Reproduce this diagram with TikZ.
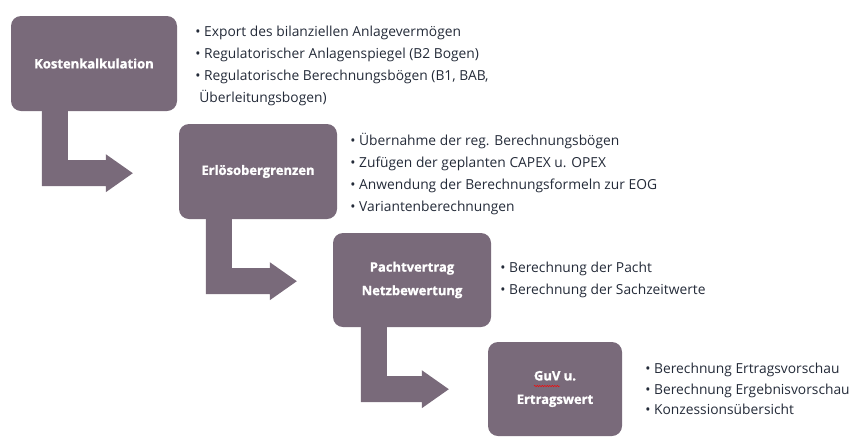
\documentclass[tikz,border=0pt]{standalone}
\usepackage{fontspec}
\setmainfont{Open Sans}
\newfontfamily\titlefont[BoldFeatures={FakeBold=1.2}]{Open Sans}
\usetikzlibrary{positioning,calc,decorations.pathmorphing}
\definecolor{boxcol}{RGB}{121,106,122}
\definecolor{txtcol}{RGB}{35,42,56}
\newcommand{\bentarrow}[4]{%
	\coordinate (a0) at ($(#1.south west)+(#3,-1)$);
	\coordinate (tip) at ($(#2.west |- #1.south)+(-#4,62)$);
	\fill[flow] (a0) -- ($(a0 |- tip)+(0,13)$) -- ($(tip)+(-27,13)$) -- ($(tip)+(-27,19)$) -- (tip) -- ($(tip)+(-27,-19)$) -- ($(tip)+(-27,-13)$) -- ($(a0 |- tip)+(26,-13)$) -- ($(a0)+(26,0)$) -- cycle;}

\begin{document}
\begin{tikzpicture}[x=1pt,y=-1pt,
	stepbox/.style={fill=boxcol, rounded corners=10pt, text=white, align=center, inner sep=0pt, font=\fontsize{13}{23.5}\titlefont\bfseries},
	bullets/.style={anchor=west, inner sep=0pt, align=left, text=txtcol, font=\fontsize{13.8}{22}\selectfont},
	flow/.style={fill=boxcol}]
	\useasboundingbox (0,0) rectangle (853,437);
	\node[stepbox, minimum width=166pt, minimum height=95pt] (kost) at (94,63.5) {Kostenkalkulation};
	\node[stepbox, minimum width=158pt, minimum height=95pt] (erloes) at (258,171.5) {Erlösobergrenzen};
	\node[stepbox, minimum width=158pt, minimum height=94pt] (pacht) at (412,280) {Pachtvertrag\\Netzbewertung};
	\node[stepbox, minimum width=134pt, minimum height=94pt] (guv) at (555,389) {GuV u.\\Ertragswert};
	\node[bullets, right=18pt of kost, yshift=-2pt] (kostlist) {• Export des bilanziellen Anlagevermögen\\• Regulatorischer Anlagenspiegel (B2 Bogen)\\• Regulatorische Berechnungsbögen (B1, BAB,\\\hspace*{4pt}Überleitungsbogen)};
	\node[bullets, right=13pt of erloes, yshift=-2pt] (erloeslist) {• Übernahme der reg. Berechnungsbögen\\• Zufügen der geplanten CAPEX u. OPEX\\• Anwendung der Berechnungsformeln zur EOG\\• Variantenberechnungen};
	\node[bullets, right=9pt of pacht] (pachtlist) {• Berechnung der Pacht\\• Berechnung der Sachzeitwerte};
	\node[bullets, right=23pt of guv, font=\fontsize{13.8}{20.5}\selectfont] (guvlist) {• Berechnung Ertragsvorschau\\• Berechnung Ergebnisvorschau\\• Konzessionsübersicht};
	\draw[red, line width=0.45pt, decorate, decoration={snake, amplitude=0.7pt, segment length=2.5pt}] ($(guv.center)+(-21,-3)$) -- ($(guv.center)+(5,-3)$);
	\bentarrow{kost}{erloes}{31}{46}
	\bentarrow{erloes}{pacht}{27}{36}
	\bentarrow{pacht}{guv}{28}{39}
\end{tikzpicture}
\end{document}
